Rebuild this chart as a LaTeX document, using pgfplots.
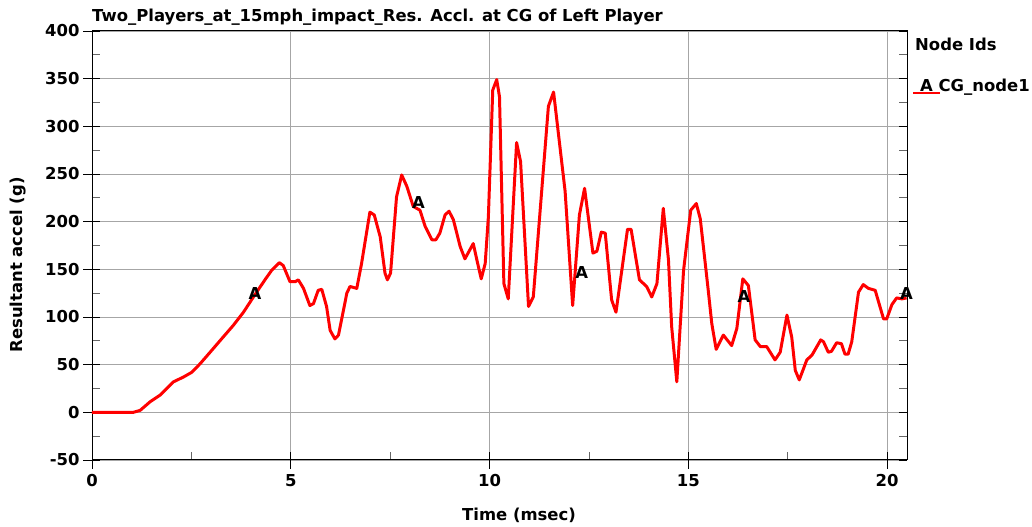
\documentclass[border=0pt]{standalone}
\usepackage{fontspec}
\setmainfont{DejaVu Sans}
\usepackage{pgfplots}
\pgfplotsset{compat=1.18}
\newcommand{\lf}{\bfseries\fontsize{16.5}{19}\selectfont}
\begin{document}
\begin{tikzpicture}
\begin{axis}[
 name=ax,
 scale only axis, width=815bp, height=429bp,
 xmin=0, xmax=20.5, ymin=-50, ymax=400,
 xtick={0,5,10,15,20}, ytick={-50,0,...,400},
 minor x tick num=1, minor y tick num=1,
 xtick pos=bottom, ytick pos=both,
 grid=major, major grid style={gray!70, line width=0.8pt},
 tick align=inside, major tick length=8bp, minor tick length=8bp,
 major tick style={black, line width=0.9pt},
 minor tick style={gray!80!black, line width=0.9pt},
 extra x ticks={0,5,10,15,20}, extra y ticks={-50,0,50,100,150,200,250,300,350,400},
 extra tick style={tick align=outside, major tick length=9bp, grid=none, xticklabel={}, yticklabel={}, ytick pos=left, xtick pos=bottom},
 axis line style={line width=1pt},
 clip=false,
 /pgf/number format/assume math mode=true,
 ticklabel style={font=\lf},
 xticklabel style={yshift=-11bp},
 yticklabel style={xshift=-9bp},
 title={Two\_Players\_at\_15mph\_impact\_Res. Accl. at CG of Left Player},
 title style={at={(axis description cs:0,1)}, anchor=west, inner sep=0pt, yshift=8bp, font=\lf},
 xlabel={Time (msec)},
 xlabel style={at={(axis description cs:0.524,0)}, anchor=center, yshift=-55bp, font=\lf},
 ylabel={Resultant accel (g)},
 ylabel style={at={(axis description cs:-0.0908,0.455)}, anchor=center, font=\lf},
 legend style={at={(axis description cs:1,1)}, anchor=north west, xshift=6bp, yshift=-5bp, draw=none, fill=none, inner sep=0pt, row sep=23bp, font=\lf},
 legend cell align=left,
 legend image code/.code={},
]
\addlegendimage{empty legend}
\addlegendentry{Node Ids}
\addplot[red, line width=3pt, line join=round] coordinates {
(0,0) (1.04,0) (1.21,2) (1.46,11) (1.71,18) (2.05,32) (2.30,37) (2.51,42) (2.72,51) (2.97,63)
(3.30,79) (3.55,91) (3.81,105) (4.06,121) (4.35,139) (4.52,149) (4.71,157) (4.81,154) (4.98,137) (5.11,137)
(5.19,139) (5.32,130) (5.48,112) (5.57,114) (5.69,128) (5.78,129) (5.90,111) (5.99,86) (6.11,77) (6.20,81)
(6.41,125) (6.49,132) (6.66,130) (6.78,156) (6.99,210) (7.10,207) (7.25,184) (7.37,146) (7.43,139) (7.51,146)
(7.66,226) (7.79,249) (7.92,237) (8.08,216) (8.25,212) (8.38,195) (8.55,181) (8.65,181) (8.75,188) (8.88,207)
(8.98,211) (9.09,202) (9.26,174) (9.38,161) (9.59,177) (9.68,160) (9.79,140) (9.89,156) (9.97,205) (10.08,338)
(10.18,349) (10.25,331) (10.36,135) (10.47,119) (10.68,283) (10.78,263) (10.98,111) (11.10,121) (11.48,321) (11.61,336)
(11.90,232) (12.09,112) (12.26,207) (12.39,235) (12.60,167) (12.70,169) (12.81,189) (12.91,188) (13.07,118) (13.18,105)
(13.47,192) (13.56,192) (13.77,139) (13.95,132) (14.08,121) (14.21,135) (14.37,214) (14.50,160) (14.58,90) (14.71,32)
(14.88,149) (15.06,212) (15.20,219) (15.30,203) (15.49,132) (15.59,93) (15.70,66) (15.88,81) (16.09,70) (16.22,88)
(16.37,140) (16.51,133) (16.68,76) (16.81,69) (16.97,69) (17.18,55) (17.31,63) (17.48,102) (17.60,79) (17.69,44)
(17.79,34) (17.98,55) (18.11,60) (18.33,76) (18.40,74) (18.52,63) (18.60,64) (18.73,73) (18.85,72) (18.94,61)
(19.02,61) (19.11,74) (19.28,126) (19.40,134) (19.53,130) (19.70,128) (19.91,98) (19.99,98) (20.12,113) (20.24,120)
(20.37,119) (20.49,120)
};
\addlegendentry{\hspace{-2bp}\rlap{\color{red}\rule[-2.5pt]{27bp}{2.5pt}}\hspace{7bp}A CG\_node1}
\addplot[black, only marks, mark=text, text mark={\lf A}, forget plot] coordinates {
(4.10,125) (8.21,220) (12.32,147) (16.40,122) (20.49,125)
};
\end{axis}
\pgfresetboundingbox
\path[use as bounding box] ([xshift=-92bp,yshift=-67bp]ax.south west) rectangle ([xshift=125bp,yshift=31bp]ax.north east);
\end{tikzpicture}
\end{document}
